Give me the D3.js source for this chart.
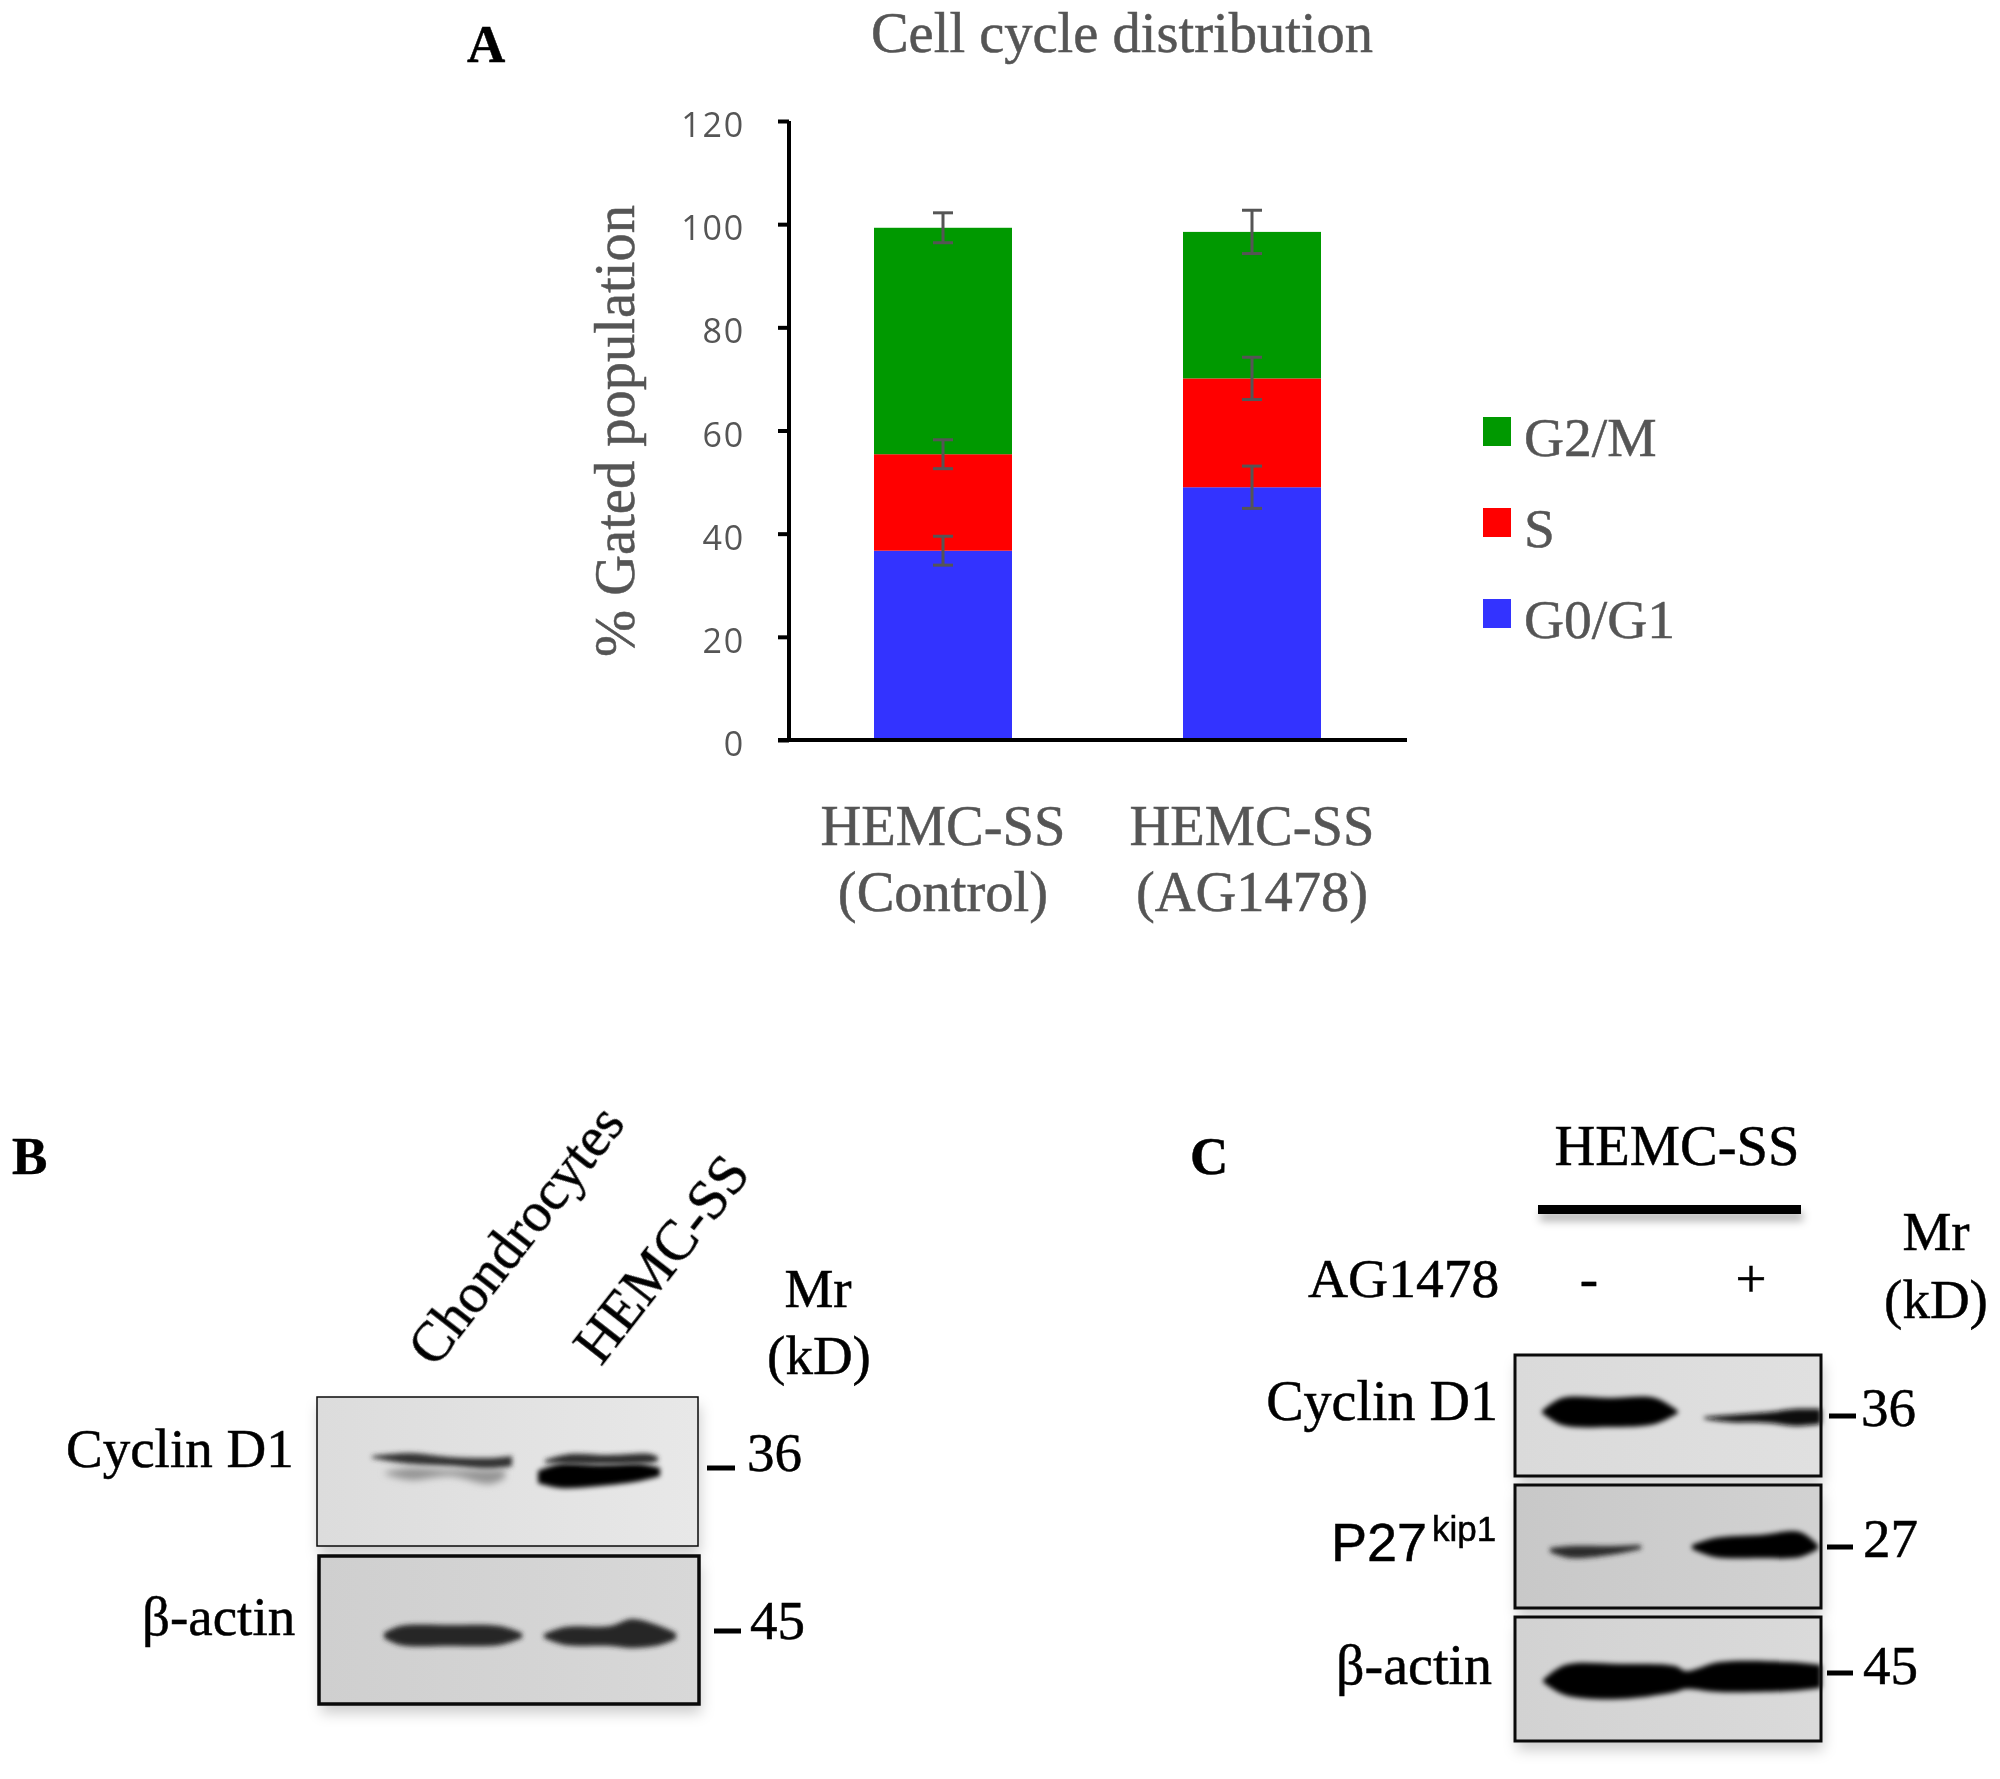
<!DOCTYPE html>
<html><head><meta charset="utf-8">
<script src="https://cdn.jsdelivr.net/npm/d3@7/dist/d3.min.js"></script>
<style>
html,body{margin:0;padding:0;background:#fff}
svg{display:block}
</style></head><body>
<svg id="c" width="2000" height="1779" viewBox="0 0 2000 1779" font-family="'Liberation Serif',serif"></svg>
<script>
// ---- data ----
const categories = ["HEMC-SS (Control)", "HEMC-SS (AG1478)"];
const categoryLine1 = ["HEMC-SS", "HEMC-SS"];
const categoryLine2 = ["(Control)", "(AG1478)"];
const seriesNames = ["G0/G1", "S", "G2/M"];
const g0g1 = [36.7, 49.0];
const sPhase = [18.7, 21.1];
const g2m = [43.9, 28.4];
const g0g1Err = [2.8, 4.1];
const sPhaseErr = [2.8, 4.1];
const g2mErr = [2.9, 4.2];
const yTicks = [0, 20, 40, 60, 80, 100, 120];
const seriesColors = ["#3333ff", "#ff0000", "#009900"];

// ---- set-up ----
const svg = d3.select("#c");
const defs = svg.append("defs");
const blur = (id, s) => defs.append("filter").attr("id", id)
  .attr("x", "-20%").attr("y", "-80%").attr("width", "140%").attr("height", "260%")
  .append("feGaussianBlur").attr("stdDeviation", s);
blur("b1", 2.4); blur("b3", 3.6);
const soft = defs.append("filter").attr("id", "soft").attr("x", "-5%").attr("y", "-20%").attr("width", "110%").attr("height", "140%");
soft.append("feGaussianBlur").attr("stdDeviation", 0.55);
const shadow = defs.append("filter").attr("id", "shadow")
  .attr("x", "-10%").attr("y", "-10%").attr("width", "120%").attr("height", "130%");
shadow.append("feDropShadow").attr("dx", 2).attr("dy", 9).attr("stdDeviation", 7)
  .attr("flood-color", "#000").attr("flood-opacity", 0.2);
const barShadow = defs.append("filter").attr("id", "barShadow")
  .attr("x", "-5%").attr("y", "-100%").attr("width", "110%").attr("height", "500%");
barShadow.append("feDropShadow").attr("dx", 2).attr("dy", 7).attr("stdDeviation", 4)
  .attr("flood-color", "#000").attr("flood-opacity", 0.3);

const GREY = "#555555";
const label = (t, x, y, o = {}) => svg.append("text").text(t).attr("x", x).attr("y", y)
  .attr("font-size", o.size || 55).attr("fill", o.fill || "#000")
  .attr("text-anchor", o.anchor || "start").attr("font-weight", o.weight || null)
  .attr("font-family", o.family || null).attr("transform", o.transform || null)
  .attr("stroke", o.fill || "#000").attr("stroke-width", 0.5).attr("filter", "url(#soft)");

// ---- panel A ----
const barW = 138;
const cx = [943, 1252];
const y = d3.scaleLinear().domain([0, 120]).range([740, 121]);
const rows = categories.map((c, i) => ({ c, i, "G0/G1": g0g1[i], "S": sPhase[i], "G2/M": g2m[i] }));
const stack = d3.stack().keys(seriesNames)(rows);
const g = svg.append("g");
g.selectAll("g").data(stack).join("g").attr("fill", (d, i) => seriesColors[i])
  .selectAll("rect").data(d => d).join("rect")
  .attr("x", d => cx[d.data.i] - barW / 2).attr("width", barW)
  .attr("y", d => y(d[1])).attr("height", d => y(d[0]) - y(d[1]));

const errs = [g0g1Err, sPhaseErr, g2mErr];
stack.forEach((layer, k) => layer.forEach((d) => {
  const e = errs[k][d.data.i], X = cx[d.data.i];
  const eb = svg.append("g").attr("stroke", GREY).attr("stroke-width", 3).attr("fill", "none");
  eb.append("line").attr("x1", X).attr("x2", X).attr("y1", y(d[1] + e)).attr("y2", y(d[1] - e));
  [e, -e].forEach(s => eb.append("line").attr("x1", X - 10).attr("x2", X + 10)
    .attr("y1", y(d[1] + s)).attr("y2", y(d[1] + s)));
}));

const axis = svg.append("g").attr("transform", "translate(789,0)")
  .call(d3.axisLeft(y).tickValues(yTicks).tickSize(11).tickPadding(33));
axis.attr("font-family", null);
axis.select(".domain").attr("stroke", "#000").attr("stroke-width", 4).attr("d", "M0,121V742");
axis.selectAll(".tick line").attr("stroke", "#000").attr("stroke-width", 4);
axis.selectAll(".tick text").attr("fill", GREY).attr("font-size", 34)
  .attr("font-family", "'Open Sans',sans-serif").attr("dy", "0.46em")
  .attr("letter-spacing", 1.8).attr("filter", "url(#soft)");
svg.append("line").attr("x1", 778).attr("x2", 1407).attr("y1", y(0)).attr("y2", y(0))
  .attr("stroke", "#000").attr("stroke-width", 4);

label("Cell cycle distribution", 1122, 52, { size: 56.5, fill: GREY, anchor: "middle" });
label("% Gated population", 0, 0, { size: 56.5, fill: GREY, anchor: "middle", transform: "translate(634,431) rotate(-90)" });
categoryLine1.forEach((t, i) => label(t, cx[i], 845, { size: 56.5, fill: GREY, anchor: "middle" }));
categoryLine2.forEach((t, i) => label(t, cx[i], 911, { size: 56.5, fill: GREY, anchor: "middle" }));

const legendY = { "G2/M": 417, "S": 508, "G0/G1": 599 };
seriesNames.forEach((n, i) => {
  svg.append("rect").attr("x", 1483).attr("y", legendY[n]).attr("width", 28).attr("height", 29).attr("fill", seriesColors[i]);
  label(n, 1524, legendY[n] + 39, { size: 55.5, fill: GREY });
});

label("A", 467, 62, { size: 53, weight: "bold" });
label("B", 12, 1174, { size: 53, weight: "bold" });
label("C", 1190, 1174, { size: 53, weight: "bold" });

// ---- blots ----
const band = (pts, fill, f, op = 1) => svg.append("path")
  .attr("d", d3.area().x(d => d[0]).y0(d => d[1]).y1(d => d[2]).curve(d3.curveCatmullRom)(pts))
  .attr("fill", fill).attr("filter", `url(#${f})`).attr("opacity", op);
function panel(x0, y0, x1, y1, c1, c2, sw, id) {
  const gr = defs.append("linearGradient").attr("id", id);
  gr.append("stop").attr("offset", 0).attr("stop-color", c1);
  gr.append("stop").attr("offset", 1).attr("stop-color", c2);
  svg.append("rect").attr("x", x0).attr("y", y0).attr("width", x1 - x0).attr("height", y1 - y0)
    .attr("fill", `url(#${id})`).attr("filter", "url(#shadow)");
  return () => svg.append("rect").attr("x", x0).attr("y", y0).attr("width", x1 - x0).attr("height", y1 - y0)
    .attr("fill", "none").attr("stroke", "#0a0a0a").attr("stroke-width", sw);
}
const dash = (x0, x1, yy) => svg.append("line").attr("x1", x0).attr("x2", x1).attr("y1", yy).attr("y2", yy)
  .attr("stroke", "#000").attr("stroke-width", 5);

// B
let close = panel(317, 1397, 698, 1546, "#dcdcdc", "#e8e8e8", 1.5, "gb1");
band([[372,1456,1458],[410,1453,1464],[450,1457,1466],[490,1458,1469],[512,1456,1466]], "#333", "b1");
band([[385,1472,1474],[410,1468,1480],[450,1470,1476],[490,1470,1484],[505,1470,1478]], "#949494", "b3");
band([[538,1471,1483],[560,1464,1488],[600,1465,1486],[640,1464,1481],[660,1468,1476]], "#040404", "b1");
band([[545,1460,1463],[570,1454,1464],[610,1455,1464],[650,1454,1463],[658,1457,1461]], "#2c2c2c", "b1");
close();
close = panel(319, 1556, 699, 1704, "#cfcfcf", "#d8d8d8", 3.5, "gb2");
band([[384,1633,1638],[400,1626,1645],[450,1625,1646],[500,1626,1645],[522,1633,1638]], "#282828", "b1");
band([[544,1634,1638],[565,1627,1645],[610,1626,1646],[632,1619,1648],[660,1626,1645],[676,1633,1639]], "#282828", "b1");
close();
label("Cyclin D1", 66, 1467);
label("β-actin", 142, 1635);
label("Mr", 818, 1307, { anchor: "middle" });
label("(kD)", 819, 1374, { anchor: "middle" });
dash(707, 735, 1468); label("36", 747, 1471);
dash(714, 741, 1631); label("45", 750, 1639);
label("Chondrocytes", 0, 0, { size: 56, transform: "translate(435,1369) rotate(-52)" });
label("HEMC-SS", 0, 0, { size: 56.5, transform: "translate(601,1367) rotate(-52)" });

// C
label("HEMC-SS", 1677, 1165, { anchor: "middle", size: 56.5 });
svg.append("rect").attr("x", 1538).attr("y", 1205).attr("width", 263).attr("height", 9).attr("fill", "#000").attr("filter", "url(#barShadow)");
label("AG1478", 1308, 1297, { size: 55.5 });
label("-", 1589, 1297, { anchor: "middle" });
label("+", 1751, 1297, { anchor: "middle" });
label("Mr", 1936, 1250, { anchor: "middle" });
label("(kD)", 1936, 1318, { anchor: "middle" });

close = panel(1515, 1355, 1821, 1476, "#dadada", "#e0e0e0", 3, "gc1");
band([[1542,1411,1413],[1562,1398,1425],[1610,1398,1427],[1655,1398,1424],[1678,1411,1413]], "#030303", "b1");
band([[1704,1417,1419],[1730,1415,1422],[1770,1412,1423],[1795,1409,1426],[1821,1409,1424]], "#111", "b1");
close();
close = panel(1515, 1485, 1821, 1608, "#c8c8c8", "#d2d2d2", 3, "gc2");
band([[1550,1548,1552],[1570,1546,1558],[1610,1546,1555],[1641,1545,1549]], "#2a2a2a", "b1");
band([[1692,1545,1549],[1715,1538,1557],[1760,1535,1558],[1800,1532,1557],[1818,1545,1549]], "#030303", "b1");
close();
close = panel(1515, 1617, 1821, 1741, "#d2d2d2", "#dadada", 3, "gc3");
band([[1543,1680,1682],[1565,1665,1695],[1620,1664,1699],[1675,1666,1692],[1686,1671,1689],[1720,1662,1692],[1790,1662,1691],[1821,1665,1688]], "#030303", "b1");
close();
label("Cyclin D1", 1498, 1420, { anchor: "end", size: 56 });
label("β-actin", 1492, 1684, { anchor: "end", size: 56 });
label("P27", 1331, 1561, { size: 54, family: "'Liberation Sans',sans-serif" });
label("kip1", 1432, 1541, { size: 35, family: "'Liberation Sans',sans-serif" });
dash(1829, 1856, 1416); label("36", 1861, 1426);
dash(1827, 1853, 1547); label("27", 1863, 1557);
dash(1827, 1853, 1673); label("45", 1863, 1684);
</script>
</body></html>
